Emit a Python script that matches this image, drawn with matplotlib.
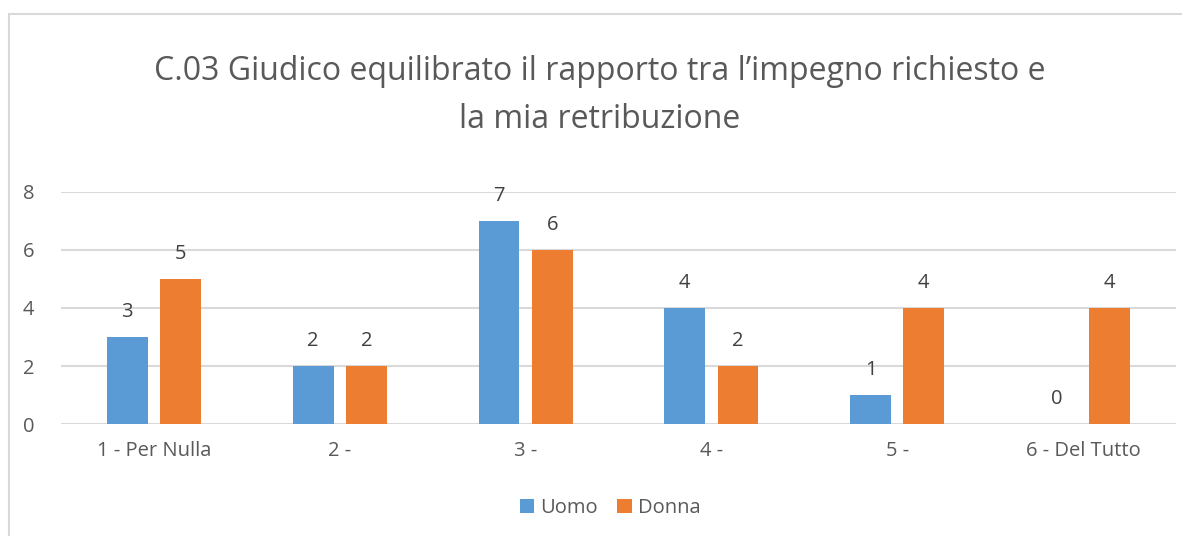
import matplotlib.pyplot as plt
import numpy as np
from matplotlib.patches import Rectangle

categories = ["1 - Per Nulla", "2 -", "3 -", "4 -", "5 -", "6 - Del Tutto"]
uomo = [3, 2, 7, 4, 1, 0]
donna = [5, 2, 6, 2, 4, 4]

plt.rcParams["font.family"] = ["Open Sans", "DejaVu Sans"]
text_col = "#595959"
blue = "#5b9bd5"
orange = "#ed7d31"

fig = plt.figure(figsize=(11.82, 5.36), dpi=100)
# chart border (Excel style)
fig.patches.append(Rectangle((9 / 1182, -0.05), 1.1, 1 - 14 / 536 + 0.05,
                             transform=fig.transFigure, fill=False,
                             edgecolor="#d9d9d9", linewidth=1.5))

ax = fig.add_axes([61 / 1182, 1 - 424 / 536, (1176 - 61) / 1182, (424 - 192) / 536])
x = np.arange(len(categories))
w = 0.22
off = 0.143
b1 = ax.bar(x - off, uomo, w, color=blue, label="Uomo", zorder=3)
b2 = ax.bar(x + off, donna, w, color=orange, label="Donna", zorder=3)

for bars, vals in ((b1, uomo), (b2, donna)):
    for b, v in zip(bars, vals):
        ax.annotate(str(v), (b.get_x() + b.get_width() / 2, v),
                    xytext=(0, 18), textcoords="offset points",
                    ha="center", va="center", fontsize=14.5, color="#404040")

ax.set_xlim(-0.5, len(categories) - 0.5)
ax.set_ylim(0, 8)
ax.set_yticks([0, 2, 4, 6, 8])
ax.set_xticks(x)
ax.set_xticklabels(categories)
ax.grid(axis="y", color="#d9d9d9", linewidth=1.5, zorder=0)
for s in ax.spines.values():
    s.set_visible(False)
ax.tick_params(length=0, labelsize=14.5, colors=text_col)
ax.tick_params(axis="x", pad=12)
ax.tick_params(axis="y", pad=19)

fig.text(0.507, 1 - 96 / 536,
         "C.03 Giudico equilibrato il rapporto tra l\u2019impegno richiesto e\nla mia retribuzione",
         ha="center", va="center", fontsize=23, color=text_col, linespacing=1.6)

fig.legend(handles=[b1, b2], labels=["Uomo", "Donna"], loc="center",
           bbox_to_anchor=(0.516, 1 - 508 / 536), ncol=2, frameon=False,
           fontsize=14.5, labelcolor=text_col, handlelength=0.7, handleheight=0.7,
           handletextpad=0.3, columnspacing=1.0)

fig.savefig("out.png", dpi=100)
